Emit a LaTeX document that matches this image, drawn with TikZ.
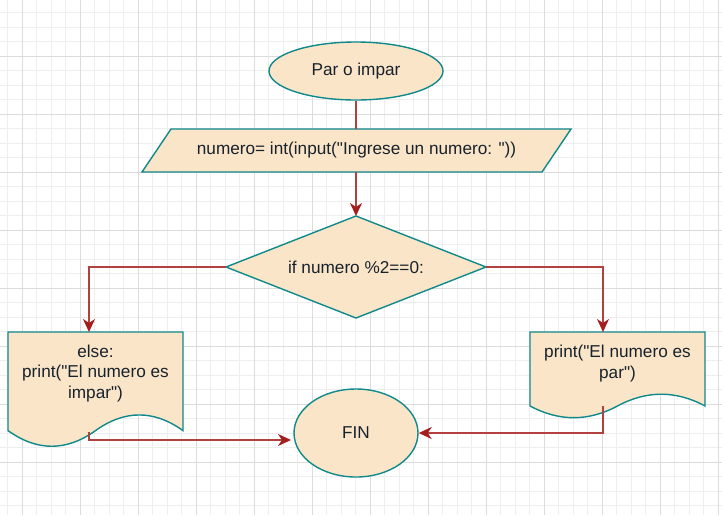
\documentclass[tikz,border=0pt]{standalone}
\usepackage{fontspec}
\setmainfont{Liberation Sans}[Ligatures=TeXOff]
\usetikzlibrary{arrows.meta,shapes.geometric,calc}
\definecolor{fillc}{HTML}{FAE5C8}
\definecolor{strokec}{HTML}{10898B}
\definecolor{linec}{HTML}{B0413E}
\definecolor{tipc}{HTML}{A51E1E}
\definecolor{txtc}{HTML}{18222C}
\definecolor{gridminor}{HTML}{EEEEEE}
\definecolor{gridmajor}{HTML}{DCDCDC}
\begin{document}
\begin{tikzpicture}[x=1pt,y=-1pt,
  shapebox/.style={draw=strokec, fill=fillc, line width=1.4pt},
  txt/.style={text=txtc, font=\fontsize{17.2}{20.7}\selectfont, align=center, inner sep=0pt},
  conn/.style={draw=linec, line width=1.6pt, -{Stealth[length=13pt,width=12pt,inset=4pt,color=tipc]}},
  plainconn/.style={draw=linec, line width=1.6pt}]
\useasboundingbox (0,0) rectangle (722,515);
\fill[white] (0,0) rectangle (722,515);
% grid
\foreach \i in {0,...,49} \draw[gridminor, line width=0.8pt] ({7.5+14.5*\i},0) -- ({7.5+14.5*\i},515);
\foreach \j in {0,...,34} \draw[gridminor, line width=0.8pt] (0,{12.5+14.5*\j}) -- (722,{12.5+14.5*\j});
\foreach \i in {0,...,12} \draw[gridmajor, line width=0.8pt] ({22+58*\i},0) -- ({22+58*\i},515);
\foreach \j in {0,...,8} \draw[gridmajor, line width=0.8pt] (0,{56+58*\j}) -- (722,{56+58*\j});

% start
\node[ellipse, shapebox, minimum width=174pt, minimum height=58pt, txt] (start) at (356,71) {Par o impar};

% input parallelogram
\coordinate (inTL) at (171,129);
\coordinate (inTR) at (571,129);
\coordinate (inBR) at (542,172);
\coordinate (inBL) at (142,172);
\coordinate (inTop) at (356,129);
\coordinate (inBot) at (356,172);
\draw[shapebox] (inTL) -- (inTR) -- (inBR) -- (inBL) -- cycle;
\node[txt] (input) at (356.5,150.5) {numero= int(input("Ingrese un numero: "))};

% decision
\coordinate (decT) at (356,216);
\coordinate (decR) at (486,267);
\coordinate (decB) at (356,318);
\coordinate (decL) at (226,267);
\draw[shapebox] (decT) -- (decR) -- (decB) -- (decL) -- cycle;
\node[txt] (dec) at (356,267) {if numero \%2==0:};

% left document
\draw[shapebox] (8,332) -- (183,332) -- (183,430.6)
  .. controls (153.83,409.72) and (124.67,409.72) .. (95.5,430.6)
  .. controls (66.33,451.48) and (37.17,451.48) .. (8,430.6) -- cycle;
\node[txt] (ltext) at (95.5,373.5) {else:\\print("El numero es\\impar")};
\coordinate (ldocTop) at (89,332);
\coordinate (ldocBot) at (89,432);

% right document
\draw[shapebox] (530,332) -- (705,332) -- (705,405.95)
  .. controls (675.83,390.29) and (646.67,390.29) .. (617.5,405.95)
  .. controls (588.33,421.61) and (559.17,421.61) .. (530,405.95) -- cycle;
\node[txt] (rtext) at (617.5,363.5) {print("El numero es\\par")};
\coordinate (rdocTop) at (603,332);
\coordinate (rdocBot) at (603,406);

% end
\node[ellipse, shapebox, minimum width=124pt, minimum height=88pt, txt] (fin) at (356,433) {FIN};
\coordinate (finL) at (291,440);

% connectors
\draw[plainconn] (start.south) -- (inTop);
\draw[conn] (inBot) -- (decT);
\draw[conn] (decL) -| (ldocTop);
\draw[conn] (decR) -| (rdocTop);
\draw[conn] (ldocBot) |- (finL);
\draw[conn] (rdocBot) |- (fin.east);
\end{tikzpicture}
\end{document}
